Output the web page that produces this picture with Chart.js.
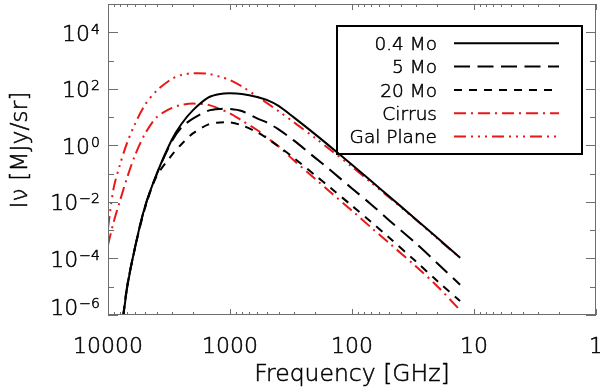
<!DOCTYPE html>
<html>
<head>
<meta charset="utf-8">
<script src="https://cdn.jsdelivr.net/npm/chart.js@4.4.1/dist/chart.umd.min.js"></script>
<style>
  html, body { margin: 0; padding: 0; background: #fff; }
  #wrap { width: 600px; height: 392px; }
</style>
</head>
<body>
<div id="wrap"><canvas id="sed"></canvas></div>
<script>
// SED curves (GHz -> MJy/sr)
const freqGHz = [10000, 9000, 8000, 7000, 6000, 5000, 4000, 3000, 2500, 2000, 1500, 1200, 1000,
                 800, 600, 500, 400, 300, 200, 150, 100, 70, 50, 30, 20, 13];
const mass04 = [null, null, 8e-8, 8e-6, 2.5e-4, 6.3e-3, 0.095, 1.58, 5.7, 18, 50, 66, 69,
                65, 51.7, 40.5, 24.9, 9.76, 2.45, 0.885, 0.205, 0.0557, 0.0162, 2.43e-3, 5.36e-4, 1.05e-4];
const mass5 = [null, null, 9e-8, 9e-6, 2.5e-4, 6.3e-3, 0.093, 1.4, 4.3, 9, 17, 19.5, 19.5,
               16.5, 9, 6.5, 3.67, 1.5, 0.361, 0.131, 0.030, 8.3e-3, 2.3e-3, 3.45e-4, 6.8e-5, 1.17e-5];
const mass20 = [null, null, 9e-8, 9e-6, 2.4e-4, 5.6e-3, 0.08, 0.45, 1.1, 2.7, 5.5, 6.5, 6.5,
                5.1, 2.9, 1.8, 0.92, 0.361, 0.087, 0.0315, 7.3e-3, 1.98e-3, 5.6e-4, 7.9e-5, 1.6e-5, 3.1e-6];
const cirrus = [3e-4, 1.9e-3, 0.0105, 0.068, 0.45, 2.45, 9.8, 21, 27, 30, 27, 19, 13.5,
                7.6, 3.5, 1.9, 0.92, 0.295, 0.065, 0.022, 4.9e-3, 1.26e-3, 3.6e-4, 5.3e-5, 1.04e-5, 1.48e-6];
const galPlane = [1.2e-3, 0.03, 0.2, 1.17, 5.8, 26, 85, 224, 310, 355, 340, 265, 205,
                  122, 54, 31.8, 16.2, 6.6, 1.8, 0.69, 0.174, 0.049, 0.0148, 2.34e-3, 5.1e-4, 1.05e-4];

const seriesNames = ["0.4 Mo", "5 Mo", "20 Mo", "Cirrus", "Gal Plane"];
const xTickVals = [10000, 1000, 100, 10, 1];
const yTickExps = [4, 2, 0, -2, -4, -6];

const FONT = '"DejaVu Sans", sans-serif';
const W = "200";
const RED = "#e81818";
const AXIS = "#6e6e6e";

const pts = (ys) => freqGHz.map((f, i) => ({ x: f, y: ys[i] }));

const mk = (label, ys, color, dash) => ({
    label,
    data: pts(ys),
    borderColor: color,
    borderWidth: 2,
    borderDash: dash,
    pointRadius: 0,
    fill: false,
    tension: 0.3,
    spanGaps: false,
});

// thin font looks washed out, give it a hairline stroke
function text(ctx, s, x, y) {
    ctx.fillText(s, x, y);
    ctx.strokeText(s, x, y);
}

// axes frame, inward ticks, tick labels, titles and the boxed legend
const idlFrame = {
    id: "idlFrame",
    afterDatasetsDraw(chart) {
        const { ctx, chartArea: a, scales: { x, y } } = chart;
        ctx.save();
        ctx.strokeStyle = AXIS;
        ctx.lineWidth = 1;
        ctx.strokeRect(a.left + 0.5, a.top + 0.5, a.right - a.left - 1, a.bottom - a.top - 1);

        const line = (x1, y1, x2, y2) => {
            ctx.beginPath(); ctx.moveTo(x1, y1); ctx.lineTo(x2, y2); ctx.stroke();
        };
        // x ticks, bottom and top
        for (let d = 0; d <= 4; d++) {
            for (let m = 1; m <= 9; m++) {
                if (d === 4 && m > 1) break;
                const px = Math.round(x.getPixelForValue(m * Math.pow(10, d))) + 0.5;
                const len = m === 1 ? 6 : 3;
                line(px, a.bottom, px, a.bottom - len);
                line(px, a.top, px, a.top + len);
            }
        }
        // y ticks, left and right
        for (let e = -6; e <= 5; e++) {
            const py = Math.round(y.getPixelForValue(Math.pow(10, e))) + 0.5;
            const len = e % 2 === 0 ? 10 : 6;
            line(a.left, py, a.left + len, py);
            line(a.right, py, a.right - len, py);
        }

        ctx.fillStyle = "#000";
        ctx.strokeStyle = "#000";
        ctx.lineWidth = 0.5;
        // x tick labels
        ctx.font = `${W} 22px ${FONT}`;
        ctx.textAlign = "center";
        ctx.textBaseline = "alphabetic";
        xTickVals.forEach(v => text(ctx, String(v), x.getPixelForValue(v), 353));

        // y tick labels, 10 with superscript exponent
        yTickExps.forEach(e => {
            const base = Math.min(y.getPixelForValue(Math.pow(10, e)) + 8.5, a.bottom);
            const expTxt = e < 0 ? "\u2212" + Math.abs(e) : String(e);
            ctx.font = `${W} 14px ${FONT}`;
            ctx.textAlign = "right";
            text(ctx, expTxt, 100, base - 7);
            const w = ctx.measureText(expTxt).width;
            ctx.font = `${W} 22px ${FONT}`;
            text(ctx, "10", 100 - w - 1, base);
        });

        // axis titles
        ctx.font = `${W} 23.5px ${FONT}`;
        ctx.textAlign = "center";
        text(ctx, "Frequency [GHz]", (a.left + a.right) / 2, 381);
        ctx.save();
        ctx.translate(27, 150);
        ctx.rotate(-Math.PI / 2);
        text(ctx, "I\u03bd [MJy/sr]", 0, 0);
        ctx.restore();

        // legend box
        ctx.lineWidth = 2;
        ctx.strokeRect(337, 26, 245, 128);
        ctx.font = `${W} 18.5px ${FONT}`;
        ctx.textAlign = "right";
        chart.data.datasets.forEach((ds, i) => {
            const base = 50 + i * 23.3;
            ctx.strokeStyle = "#000";
            ctx.lineWidth = 0.5;
            text(ctx, ds.label, 437, base);
            ctx.strokeStyle = ds.borderColor;
            ctx.lineWidth = 2;
            ctx.setLineDash(ds.borderDash || []);
            line(454, base - 6.7, 559, base - 6.7);
            ctx.setLineDash([]);
        });
        ctx.restore();
    }
};

new Chart(document.getElementById("sed"), {
    type: "line",
    data: {
        datasets: [
            mk(seriesNames[0], mass04, "#000", []),
            mk(seriesNames[1], mass5, "#000", [16, 7.5]),
            mk(seriesNames[2], mass20, "#000", [8, 7]),
            mk(seriesNames[3], cirrus, RED, [12, 5, 2, 5]),
            mk(seriesNames[4], galPlane, RED, [12, 5, 2, 5, 2, 5, 2, 5]),
        ]
    },
    options: {
        responsive: true,
        maintainAspectRatio: false,
        animation: false,
        layout: { padding: { top: 4, right: 4, left: 0, bottom: 0 } },
        plugins: { legend: { display: false }, tooltip: { enabled: false } },
        scales: {
            x: {
                type: "logarithmic",
                min: 1, max: 10000,
                reverse: true,
                grid: { display: false },
                border: { display: false },
                ticks: { display: false },
                afterFit: (s) => { s.height = 77; },
            },
            y: {
                type: "logarithmic",
                min: 1e-6, max: 1e5,
                grid: { display: false },
                border: { display: false },
                ticks: { display: false },
                afterFit: (s) => { s.width = 108; },
            }
        }
    },
    plugins: [idlFrame]
});
</script>
</body>
</html>
